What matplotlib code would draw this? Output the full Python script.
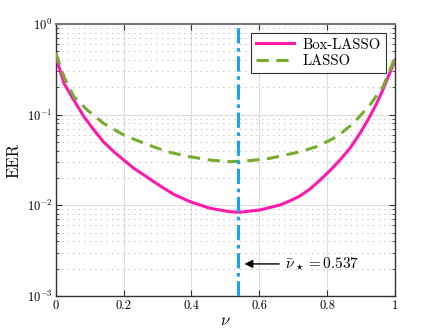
import numpy as np
import matplotlib
matplotlib.use("Agg")
import matplotlib.pyplot as plt

plt.rcParams['mathtext.fontset'] = 'cm'
plt.rcParams['font.family'] = ['cmr10', 'DejaVu Serif']
plt.rcParams['axes.formatter.use_mathtext'] = True

nu_box = [0.0, 0.006, 0.024, 0.053, 0.083, 0.112, 0.141, 0.171, 0.2, 0.23, 0.26, 0.289,
          0.319, 0.348, 0.395, 0.454, 0.513, 0.543, 0.602, 0.661, 0.69, 0.72, 0.75,
          0.779, 0.81, 0.838, 0.868, 0.897, 0.922, 0.946, 0.962, 0.976, 0.988, 1.0]
eer_box = [0.42, 0.37, 0.222, 0.145, 0.095, 0.068, 0.050, 0.039, 0.0317, 0.0256, 0.0216, 0.0182,
           0.0154, 0.0132, 0.0110, 0.0093, 0.0085, 0.0084, 0.0089, 0.0101, 0.0112, 0.0127, 0.0152,
           0.019, 0.0245, 0.0317, 0.043, 0.0624, 0.090, 0.133, 0.180, 0.241, 0.31, 0.40]

nu_lasso = [0.0, 0.024, 0.053, 0.092, 0.141, 0.2, 0.26, 0.328, 0.395, 0.454, 0.513, 0.572,
            0.631, 0.681, 0.72, 0.769, 0.828, 0.877, 0.926, 0.965, 0.995, 1.0]
eer_lasso = [0.48, 0.262, 0.158, 0.113, 0.080, 0.0597, 0.0484, 0.039, 0.0344, 0.0316, 0.0303, 0.0311,
             0.033, 0.0362, 0.039, 0.0444, 0.057, 0.080, 0.128, 0.204, 0.384, 0.42]

nu_star = 0.537
xticks = [0, 0.2, 0.4, 0.6, 0.8, 1]
xticklabels = ['0', '0.2', '0.4', '0.6', '0.8', '1']

fig = plt.figure(figsize=(4.36, 3.33), dpi=100)
ax = fig.add_axes([0.128, 0.111, 0.778, 0.817])

ax.semilogy(nu_box, eer_box, color='#FF1AAA', lw=2.2, label='Box-LASSO', zorder=3,
            solid_joinstyle='round')
ax.semilogy(nu_lasso, eer_lasso, color='#77AC30', lw=2.2, ls=(0, (4, 2.5)), label='LASSO', zorder=3)
ax.axvline(nu_star, color='#1AA3F0', lw=2.2, ls=(0, (5, 1.5, 1.2, 1.5)), zorder=4)

ax.set_xlim(0, 1)
ax.set_ylim(1e-3, 1)
ax.set_xticks(xticks)
ax.set_xticklabels(xticklabels, fontsize=9)
ax.grid(True, which='major', color='#DDDDDD', lw=0.8)
ax.grid(True, which='minor', axis='y', color='#BBBBBB', ls=(0, (1, 4)), lw=0.8)
ax.set_axisbelow(True)
ax.tick_params(which='both', direction='in', top=True, right=True, color='#333333')
ax.tick_params(which='major', length=4, labelsize=9, pad=2.5)
ax.tick_params(which='minor', length=2)
for s in ax.spines.values():
    s.set_color('#333333')
    s.set_linewidth(1.0)
ax.spines['top'].set_color('#777777')
ax.spines['top'].set_linewidth(1.5)

ax.set_xlabel(r'$\nu$', fontsize=12, labelpad=1)
ax.set_ylabel('EER', fontsize=12)

ax.annotate(r'$\bar{\nu}_\star = 0.537$', xy=(0.548, 0.00226), xytext=(0.675, 0.00226),
            fontsize=11, va='center', ha='left',
            arrowprops=dict(arrowstyle='-|>', color='black', lw=1.0, mutation_scale=12))

leg = ax.legend(loc='upper right', fontsize=10.5, fancybox=False, framealpha=1,
                edgecolor='#333333', borderpad=0.35, handlelength=2.6, labelspacing=0.2,
                borderaxespad=0.6, handletextpad=0.6)
leg.get_frame().set_linewidth(0.8)

fig.savefig('out.png', dpi=100)
